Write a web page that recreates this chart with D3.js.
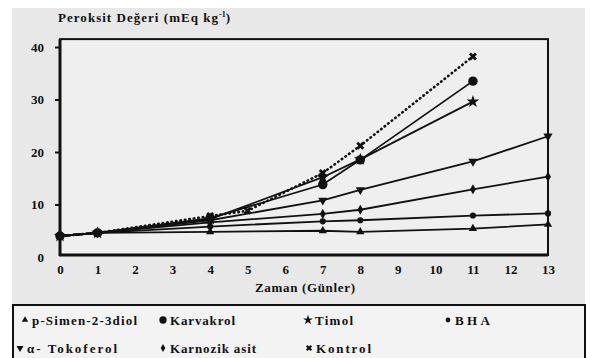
<!DOCTYPE html>
<html><head><meta charset="utf-8">
<script src="https://cdn.jsdelivr.net/npm/d3@7"></script>
<style>body{margin:0;background:#fff}svg{display:block}</style>
</head><body>
<svg id="c" width="590" height="358"></svg>
<script>
const xTicks = [0,1,2,3,4,5,6,7,8,9,10,11,12,13];
const yTicks = [0,10,20,30,40];
const seriesNames = ["p-Simen-2-3diol","Karvakrol","Timol","BHA","α- Tokoferol","Karnozik asit","Kontrol"];
const daysKontrol = [0,1,4,5,7,8,11];
const kontrol =    [4.0,4.6,7.8,8.8,16.0,21.2,38.2];
const daysKarvakrol = [0,1,4,7,8,11];
const karvakrol =  [4.0,4.6,7.4,13.8,18.5,33.5];
const daysTimol = [0,1,4,7,8,11];
const timol =      [4.0,4.6,7.2,15.2,18.6,29.6];
const daysLong = [0,1,4,7,8,11,13];
const tokoferol =  [4.0,4.6,7.0,10.8,12.8,18.2,23.0];
const karnozik =   [4.0,4.6,6.6,8.2,9.0,12.9,15.3];
const bha =        [4.0,4.6,5.8,6.8,7.0,7.9,8.3];
const psimen =     [4.0,4.6,4.8,5.0,4.8,5.4,6.2];

const FONT = '"Liberation Serif"';
const svg = d3.select("#c");
svg.append("rect").attr("x",12).attr("y",8).attr("width",573).attr("height",350).attr("fill","#e8e8e8");

const x = d3.scaleLinear().domain([0,13]).range([60,548]);
const y = d3.scaleLinear().domain([0,40]).range([257,47]);
const plotTop = y(41.5), plotBottom = 255;

svg.append("rect").attr("x",60).attr("y",plotTop).attr("width",488).attr("height",plotBottom-plotTop)
  .attr("fill","#efefef").attr("stroke","#111").attr("stroke-width",2);
svg.append("line").attr("x1",60).attr("x2",60).attr("y1",plotTop).attr("y2",plotBottom+1).attr("stroke","#111").attr("stroke-width",3);
svg.append("line").attr("x1",59).attr("x2",548).attr("y1",plotBottom).attr("y2",plotBottom).attr("stroke","#111").attr("stroke-width",3);

function styleText(sel, size){
  sel.attr("font-size",size).attr("fill","#111")
     .style("font-family",FONT).style("font-weight","bold");
  return sel;
}

const yAxis = d3.axisLeft(y).tickValues(yTicks).tickSize(5).tickPadding(11);
const gy = svg.append("g").attr("transform","translate(60,0)").call(yAxis);
gy.attr("font-family",null).attr("font-size",null);
gy.select(".domain").remove();
gy.selectAll(".tick line").attr("stroke","#111").attr("stroke-width",2);
gy.selectAll(".tick").filter(d=>d===0).select("line").remove();
styleText(gy.selectAll(".tick text"), 13);

const xAxis = d3.axisBottom(x).tickValues(xTicks).tickSize(0).tickPadding(10);
const gx = svg.append("g").attr("transform","translate(0,"+plotBottom+")").call(xAxis);
gx.attr("font-family",null).attr("font-size",null);
gx.select(".domain").remove();
styleText(gx.selectAll(".tick text"), 13);

const title = styleText(svg.append("text").attr("x",58).attr("y",22), 13);
title.append("tspan").attr("textLength",160).attr("lengthAdjust","spacing").text("Peroksit Değeri (mEq kg");
title.append("tspan").attr("dy",-5).attr("font-size",8).text("-1");
title.append("tspan").attr("dy",5).text(")");

styleText(svg.append("text").attr("x",255).attr("y",292).attr("textLength",100).attr("lengthAdjust","spacing").text("Zaman (Günler)"), 13);

const line = d3.line().x(d=>x(d[0])).y(d=>y(d[1]));
const series = [
  {name:seriesNames[0], days:daysLong, vals:psimen, sym:d3.symbolTriangle, size:30},
  {name:seriesNames[1], days:daysKarvakrol, vals:karvakrol, sym:d3.symbolCircle, size:70},
  {name:seriesNames[2], days:daysTimol, vals:timol, sym:d3.symbolStar, size:50},
  {name:seriesNames[3], days:daysLong, vals:bha, sym:d3.symbolCircle, size:30},
  {name:seriesNames[4], days:daysLong, vals:tokoferol, sym:d3.symbolTriangle, size:36, rot:180},
  {name:seriesNames[5], days:daysLong, vals:karnozik, sym:d3.symbolDiamond, size:30},
  {name:seriesNames[6], days:daysKontrol, vals:kontrol, sym:d3.symbolCross, size:40, rot:45, dotted:true}
];
series.forEach(s=>{
  const pts = s.days.map((d,i)=>[d,s.vals[i]]);
  svg.append("path").attr("d",line(pts)).attr("fill","none").attr("stroke","#111")
    .attr("stroke-width", s.dotted?2.6:1.8)
    .attr("stroke-dasharray", s.dotted?"0.5,4":null).attr("stroke-linecap", s.dotted?"round":"butt");
  svg.append("g").selectAll("path").data(pts).join("path")
    .attr("d", d3.symbol().type(s.sym).size(s.size))
    .attr("transform", d=>`translate(${x(d[0])},${y(d[1])}) rotate(${s.rot||0})`)
    .attr("fill","#111");
});

svg.append("rect").attr("x",13).attr("y",305).attr("width",572).attr("height",60)
  .attr("fill","#f3f3f3").attr("stroke","#111").attr("stroke-width",2);
const legPos = [[25,325],[163,325],[308,325],[448,325],[20,353],[163,353],[309,353]];
const legLen = [105,65,38,35,90,86,55];
series.forEach((s,i)=>{
  const [lx,ly] = legPos[i];
  svg.append("path").attr("d", d3.symbol().type(s.sym).size(s.size*0.6))
    .attr("transform",`translate(${lx},${ly-5}) rotate(${s.rot||0})`).attr("fill","#111");
  styleText(svg.append("text").attr("x",lx+7).attr("y",ly).attr("textLength",legLen[i]).attr("lengthAdjust","spacing").text(s.name), 13);
});
</script>
</body></html>
